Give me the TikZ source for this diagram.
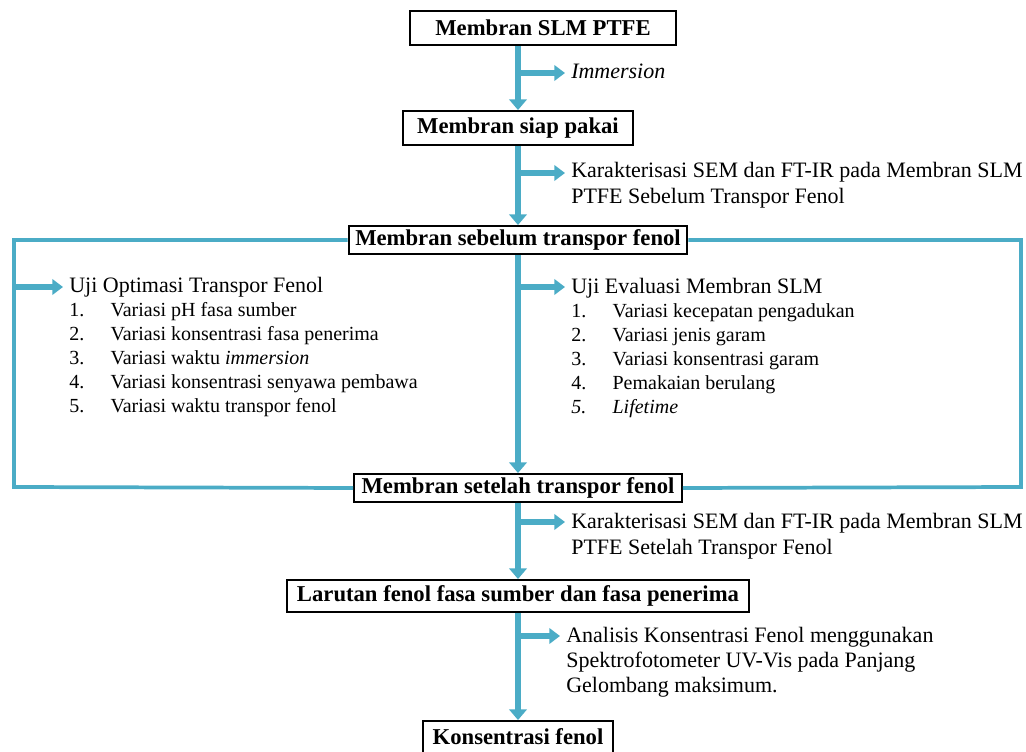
\documentclass[tikz,border=0pt]{standalone}
\usepackage{fontspec}
\setmainfont{Liberation Serif}
\usepackage{xcolor}
\usetikzlibrary{arrows.meta,positioning,calc}
\definecolor{flowblue}{RGB}{75,172,198}
\newcommand{\itm}[2]{\makebox[31pt][l]{#1}#2}
\newcommand{\hdr}[1]{{\fontsize{16.5}{18}\selectfont #1}}

\begin{document}
\begin{tikzpicture}[x=0.75pt, y=-0.75pt,
        box/.style={draw, rectangle, line width=1.4pt, inner sep=2pt, font=\bfseries\fontsize{17}{18}\selectfont},
        flow/.style={draw=flowblue, line width=4.5pt, -{Triangle[width=13pt,length=8pt]}},
        branch/.style={draw=flowblue, line width=4.2pt, -{Triangle[width=11.5pt,length=8pt]}},
        ringline/.style={draw=flowblue, line width=2.8pt},
        note/.style={anchor=base west, inner xsep=4.5pt, inner ysep=0pt, align=left, font=\fontsize{16.5}{19.5}\selectfont},
        list/.style={note, font=\fontsize{15}{18}\selectfont}
    ]
        \useasboundingbox (0,0) rectangle (1026,752);

        % main boxes
        \node [box, minimum width=199.5pt, minimum height=26pt] (b1) at (543,28) {Membran SLM PTFE};
        \node [box, minimum width=173pt, minimum height=25.5pt] (b2) at (518,128) {Membran siap pakai};
        \node [box, minimum width=254pt, minimum height=21pt] (b3) at (518,240) {Membran sebelum transpor fenol};
        \node [box, minimum width=246pt, minimum height=21pt] (b4) at (518,488) {Membran setelah transpor fenol};
        \node [box, minimum width=347pt, minimum height=24pt] (b5) at (518,596) {Larutan fenol fasa sumber dan fasa penerima};
        \node [box, minimum width=142pt, minimum height=24pt] (b6) at (518,737) {Konsentrasi fenol};

        % side notes (base = last line)
        \node [note] (imm) at (565,79) {\textit{Immersion}};
        \node [note] (semA) at (565,204) {Karakterisasi SEM dan FT-IR pada Membran SLM\\PTFE Sebelum Transpor Fenol};
        \node [list] (opt) at (63,413) {\hdr{Uji Optimasi Transpor Fenol}\\
            \itm{1.}{Variasi pH fasa sumber}\\
            \itm{2.}{Variasi konsentrasi fasa penerima}\\
            \itm{3.}{Variasi waktu \textit{immersion}}\\
            \itm{4.}{Variasi konsentrasi senyawa pembawa}\\
            \itm{5.}{Variasi waktu transpor fenol}};
        \node [list] (eval) at (565,414) {\hdr{Uji Evaluasi Membran SLM}\\
            \itm{1.}{Variasi kecepatan pengadukan}\\
            \itm{2.}{Variasi jenis garam}\\
            \itm{3.}{Variasi konsentrasi garam}\\
            \itm{4.}{Pemakaian berulang}\\
            \itm{\textit{5.}}{\textit{Lifetime}}};
        \node [note] (semB) at (565,555) {Karakterisasi SEM dan FT-IR pada Membran SLM\\PTFE Setelah Transpor Fenol};
        \node [note, font=\fontsize{16.5}{18.75}\selectfont] (uv) at (560,692) {Analisis Konsentrasi Fenol menggunakan\\Spektrofotometer UV-Vis pada Panjang\\Gelombang maksimum.};

        % joints on the lines
        \coordinate (j1) at (518,73);
        \coordinate (j2) at (518,173);
        \coordinate (j3) at (518,287);
        \coordinate (j4) at (518,522);
        \coordinate (j5) at (518,636);
        \coordinate (lj) at (14,287);
        \coordinate (lc) at (14,487);
        \coordinate (rc) at (1021,487);

        \draw [ringline] (b3.west) -| (lc) -- (b4.west);
        \draw [ringline] (b3.east) -| (rc) -- (b4.east);

        \draw [flow] (b1.south -| b2.north) -- (b2.north);
        \draw [flow] (b2.south) -- (b3.north);
        \draw [flow] (b3.south) -- (b4.north);
        \draw [flow] (b4.south) -- (b5.north);
        \draw [flow] (b5.south) -- (b6.north);

        \draw [branch] (j1) -- (j1 -| imm.west);
        \draw [branch] (j2) -- (j2 -| semA.west);
        \draw [branch] (lj) -- (lj -| opt.west);
        \draw [branch] (j3) -- (j3 -| eval.west);
        \draw [branch] (j4) -- (j4 -| semB.west);
        \draw [branch] (j5) -- (j5 -| uv.west);

    \end{tikzpicture}
\end{document}
